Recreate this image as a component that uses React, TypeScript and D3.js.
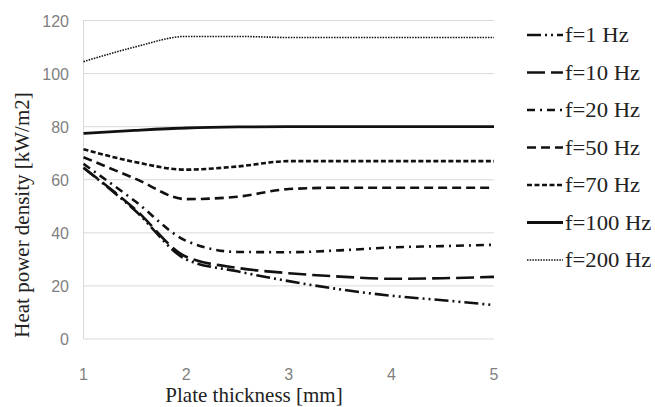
import { useEffect, useRef } from 'react';
import * as d3 from 'd3';

const thickness = [1, 1.5, 2, 2.5, 3, 3.5, 4, 4.5, 5];
const f1 = [64.5, 48.5, 30, 25.5, 21.8, 18.7, 16.3, 14.6, 12.8];
const f10 = [64.5, 49, 31, 26.8, 24.8, 23.5, 22.7, 22.9, 23.4];
const f20 = [66, 52, 37, 32.8, 32.7, 33.4, 34.5, 35, 35.5];
const f50 = [68.5, 60.5, 52.7, 53.6, 56.5, 57, 57, 57, 57];
const f70 = [71.5, 66.7, 63.8, 65, 67, 67, 67, 67, 67];
const f100 = [77.5, 78.6, 79.5, 79.9, 80, 80, 80, 80, 80];
const f200 = [104.5, 110, 114, 114, 113.6, 113.6, 113.6, 113.6, 113.6];

const seriesNames = ['f=1 Hz', 'f=10 Hz', 'f=20 Hz', 'f=50 Hz', 'f=70 Hz', 'f=100 Hz', 'f=200 Hz'];
const seriesValues = [f1, f10, f20, f50, f70, f100, f200];
const dashes = ['14,4,2,4,2,4', '18,6', '8,5,2,5', '9,5', '5,2.5', null, '1.5,1.2'];
const widths = [2.6, 2.6, 2.6, 2.6, 2.6, 2.8, 1.6];

const yTicks = [0, 20, 40, 60, 80, 100, 120];
const xTicks = [1, 2, 3, 4, 5];

const SERIF = "'Liberation Serif', 'Times New Roman', 'DejaVu Serif', serif";

export default function App() {
  const ref = useRef<SVGSVGElement | null>(null);

  useEffect(() => {
    if (!ref.current) return;
    const svg = d3.select(ref.current);
    svg.selectAll('*').remove();

    const x = d3.scaleLinear().domain([1, 5]).range([83.5, 494]);
    const y = d3.scaleLinear().domain([0, 120]).range([339, 20.5]);

    // gridlines
    svg
      .append('g')
      .selectAll('line')
      .data(yTicks)
      .join('line')
      .attr('x1', x(1))
      .attr('x2', x(5))
      .attr('y1', (d) => y(d))
      .attr('y2', (d) => y(d))
      .attr('stroke', '#d9d9d9')
      .attr('stroke-width', 1);

    svg
      .append('line')
      .attr('x1', x(1))
      .attr('x2', x(1))
      .attr('y1', y(120))
      .attr('y2', y(0))
      .attr('stroke', '#d9d9d9');

    // tick labels
    svg
      .append('g')
      .selectAll('text')
      .data(yTicks)
      .join('text')
      .attr('x', 69)
      .attr('y', (d) => y(d) + 6)
      .attr('text-anchor', 'end')
      .attr('font-family', 'Liberation Sans, sans-serif')
      .attr('font-size', 16)
      .attr('fill', '#7f7f7f')
      .text((d) => d);

    svg
      .append('g')
      .selectAll('text')
      .data(xTicks)
      .join('text')
      .attr('x', (d) => x(d))
      .attr('y', 380)
      .attr('text-anchor', 'middle')
      .attr('font-family', 'Liberation Sans, sans-serif')
      .attr('font-size', 16)
      .attr('fill', '#7f7f7f')
      .text((d) => d);

    // axis titles
    svg
      .append('text')
      .attr('x', 254)
      .attr('y', 402)
      .attr('text-anchor', 'middle')
      .attr('font-family', SERIF)
      .attr('font-size', 21)
      .attr('fill', '#222')
      .text('Plate thickness [mm]');

    svg
      .append('text')
      .attr('transform', 'translate(29,215) rotate(-90)')
      .attr('text-anchor', 'middle')
      .attr('font-family', SERIF)
      .attr('font-size', 21)
      .attr('fill', '#222')
      .text('Heat power density [kW/m2]');

    const line = d3
      .line<number>()
      .x((_, i) => x(thickness[i]))
      .y((d) => y(d))
      .curve(d3.curveMonotoneX);

    svg
      .append('g')
      .selectAll('path')
      .data(seriesValues)
      .join('path')
      .attr('d', (d) => line(d))
      .attr('fill', 'none')
      .attr('stroke', '#111')
      .attr('stroke-width', (_, i) => widths[i])
      .attr('stroke-dasharray', (_, i) => dashes[i]);

    // legend
    const leg = svg
      .append('g')
      .selectAll('g')
      .data(seriesNames)
      .join('g')
      .attr('transform', (_, i) => `translate(527, ${42 + i * 37.5})`);

    leg
      .append('line')
      .attr('x1', 0)
      .attr('x2', 36)
      .attr('y1', -7)
      .attr('y2', -7)
      .attr('stroke', '#111')
      .attr('stroke-width', (_, i) => widths[i])
      .attr('stroke-dasharray', (_, i) => dashes[i]);

    leg
      .append('text')
      .attr('transform', 'translate(38,0) scale(1.03,1)')
      .attr('font-family', SERIF)
      .attr('font-size', 22)
      .attr('fill', '#222')
      .text((d) => d);
  }, []);

  return (
    <svg
      ref={ref}
      width={655}
      height={407}
      style={{ position: 'absolute', left: 0, top: 0, background: '#fff' }}
    />
  );
}
